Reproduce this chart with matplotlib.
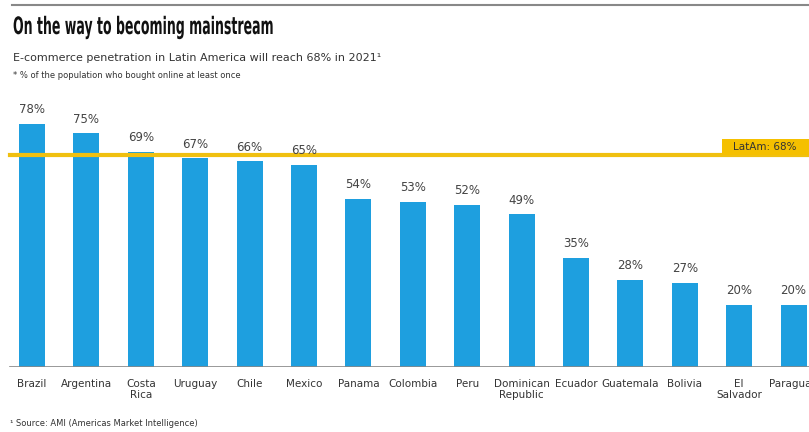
import numpy as np
import matplotlib.pyplot as plt
from matplotlib.textpath import TextPath
from matplotlib.patches import PathPatch, Rectangle
from matplotlib.font_manager import FontProperties
from matplotlib.transforms import Affine2D

countries = ["Brazil", "Argentina", "Costa\nRica", "Uruguay", "Chile", "Mexico", "Panama",
             "Colombia", "Peru", "Dominican\nRepublic", "Ecuador", "Guatemala", "Bolivia",
             "El\nSalvador", "Paraguay"]
values = [78, 75, 69, 67, 66, 65, 54, 53, 52, 49, 35, 28, 27, 20, 20]
latam = 68

W, H = 809, 432
fig = plt.figure(figsize=(W / 100, H / 100), dpi=100)
fig.patch.set_facecolor("white")

# axes: baseline at y=367px, 1% ~ 3.115px
ymax = 267 / 3.115
ax = fig.add_axes([0, 65 / H, 1, 267 / H])
x = np.arange(len(values))
ax.bar(x, values, width=0.48, color="#1e9fdf", zorder=2)
ax.axhline(latam, xmin=10 / W, color="#f0c010", lw=3, zorder=3)
ax.axhline(0, xmin=10 / W, color="#888888", lw=1.2, zorder=3)
ax.set_xlim(-32 / 54.4, (W - 32) / 54.4)
ax.set_ylim(0, ymax)
ax.axis("off")

for xi, v in zip(x, values):
    ax.text(xi, v + 2.5, f"{v}%", ha="center", va="bottom", fontsize=8.5, color="#444444")

for xi, c in zip(x, countries):
    ax.text(xi, -4, c, ha="center", va="top", fontsize=7.5, color="#333333",
            linespacing=1.1)

# LatAm label box, flush with right edge
ax.add_patch(Rectangle((722 / W, latam / ymax), 1 - 722 / W, 16 / 267,
                       transform=ax.transAxes, fc="#f5c000", ec="none", zorder=4))
ax.text(765 / W, (latam + 8 / 3.115) / ymax, "LatAm: 68%", transform=ax.transAxes,
        ha="center", va="center", fontsize=7.5, color="#333333", zorder=5)

# header
fig.add_artist(plt.Line2D([12 / W, 1], [1 - 5 / H, 1 - 5 / H], color="#888888", lw=1.5))

# condensed bold title: squeeze a text path horizontally
tp = TextPath((0, 0), "On the way to becoming mainstream", size=24,
              prop=FontProperties(family="DejaVu Sans", weight="bold"))
sx = 259 / tp.get_extents().width
trans = Affine2D().scale(sx, 1.0).translate(13, H - 34) + Affine2D().scale(1 / W, 1 / H) + fig.transFigure
fig.add_artist(PathPatch(tp, transform=trans, fc="#111111", ec="none"))

fig.text(13 / W, 1 - 58 / H, "E-commerce penetration in Latin America will reach 68% in 2021\u00b9",
         fontsize=8, va="center", color="#333333")
fig.text(13 / W, 1 - 76 / H, "* % of the population who bought online at least once",
         fontsize=6, va="center", color="#333333")
fig.text(10 / W, 1 - 424 / H, "\u00b9 Source: AMI (Americas Market Intelligence)",
         fontsize=6, va="center", color="#333333")

fig.savefig("out.png", dpi=100)
